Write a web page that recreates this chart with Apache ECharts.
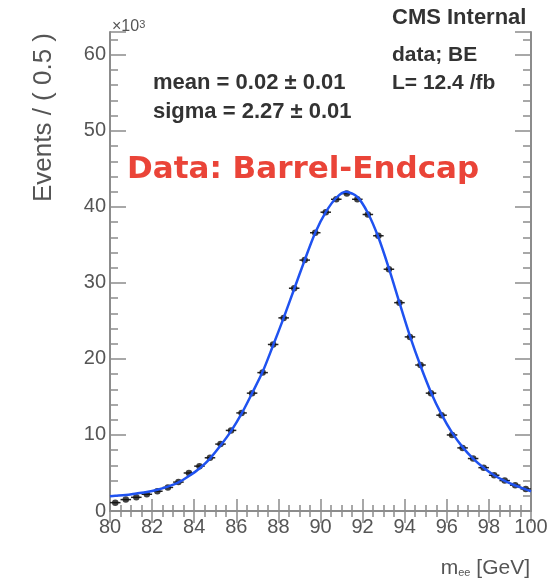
<!DOCTYPE html>
<html>
<head>
<meta charset="utf-8">
<script src="https://cdn.jsdelivr.net/npm/echarts@6/dist/echarts.min.js"></script>
<style>
html, body { margin: 0; padding: 0; background: #fff; }
#main { width: 556px; height: 583px; }
</style>
</head>
<body>
<div id="main"></div>
<script>
// bin centres (GeV), bin width 0.5
var binCenters = [80.25, 80.75, 81.25, 81.75, 82.25, 82.75, 83.25, 83.75, 84.25, 84.75,
                  85.25, 85.75, 86.25, 86.75, 87.25, 87.75, 88.25, 88.75, 89.25, 89.75,
                  90.25, 90.75, 91.25, 91.75, 92.25, 92.75, 93.25, 93.75, 94.25, 94.75,
                  95.25, 95.75, 96.25, 96.75, 97.25, 97.75, 98.25, 98.75, 99.25, 99.75];
var binHalfWidth = 0.25;
// events per bin, x10^3
var events = [1.1, 1.5, 1.8, 2.2, 2.6, 3.1, 3.8, 5.0, 5.9, 7.0,
              8.8, 10.6, 12.9, 15.5, 18.2, 21.9, 25.4, 29.3, 33.0, 36.6,
              39.3, 41.0, 41.75, 41.0, 39.0, 36.2, 31.8, 27.4, 22.9, 19.2,
              15.5, 12.6, 10.0, 8.3, 6.9, 5.7, 4.7, 4.0, 3.4, 2.9];
// fitted curve
var fitMass = [80.0, 80.25, 80.75, 81.25, 81.75, 82.25, 82.75, 83.25, 83.75, 84.25, 84.75,
               85.25, 85.75, 86.25, 86.75, 87.25, 87.75, 88.25, 88.75, 89.25, 89.75,
               90.25, 90.75, 91.2, 91.75, 92.25, 92.75, 93.25, 93.75, 94.25, 94.75,
               95.25, 95.75, 96.25, 96.75, 97.25, 97.75, 98.25, 98.75, 99.25, 99.75, 100.0];
var fitEvents = [1.95, 2.0, 2.1, 2.3, 2.5, 2.8, 3.2, 3.75, 4.6, 5.6, 6.9,
                 8.6, 10.5, 12.8, 15.5, 18.3, 21.8, 25.4, 29.2, 33.0, 36.6,
                 39.3, 41.2, 42.0, 41.3, 39.2, 36.0, 31.9, 27.4, 23.0, 19.1,
                 15.6, 12.7, 10.3, 8.4, 6.9, 5.7, 4.7, 3.95, 3.35, 2.85, 2.6];

var pointData = binCenters.map(function (m, i) { return [m, events[i]]; });
var fitData = fitMass.map(function (m, i) { return [m, fitEvents[i]]; });

var frameColor = '#8c8c8c';
var labelFont = "'Liberation Sans', Arial, sans-serif";

function xAxisOpt(pos, showLabel) {
    return {
        type: 'value',
        position: pos,
        min: 80,
        max: 100,
        interval: 2,
        axisLine: { show: true, lineStyle: { color: frameColor, width: 2 } },
        axisTick: { show: true, inside: true, length: 12, lineStyle: { color: frameColor, width: 1.5 } },
        minorTick: { show: true, splitNumber: 4, length: 6, lineStyle: { color: frameColor, width: 1.5 } },
        axisLabel: { show: showLabel, margin: 6, fontSize: 20, color: '#555', fontFamily: labelFont },
        splitLine: { show: false },
        minorSplitLine: { show: false }
    };
}

function yAxisOpt(pos, showLabel) {
    return {
        type: 'value',
        position: pos,
        min: 0,
        max: 63,
        interval: 10,
        axisLine: { show: true, lineStyle: { color: frameColor, width: 2 } },
        axisTick: { show: true, inside: true, length: 16, lineStyle: { color: frameColor, width: 1.5 } },
        minorTick: { show: true, splitNumber: 5, length: 8, lineStyle: { color: frameColor, width: 1.5 } },
        axisLabel: {
            show: showLabel, margin: 4, fontSize: 20, color: '#555', fontFamily: labelFont,
            showMaxLabel: false,
            formatter: function (v) { return v % 10 === 0 ? String(v) : ''; }
        },
        splitLine: { show: false },
        minorSplitLine: { show: false }
    };
}

var chart = echarts.init(document.getElementById('main'));
chart.setOption({
    animation: false,
    backgroundColor: '#fff',
    grid: { left: 110, right: 25, top: 32, bottom: 72 },
    xAxis: [xAxisOpt('bottom', true), xAxisOpt('top', false)],
    yAxis: [yAxisOpt('left', true), yAxisOpt('right', false)],
    series: [
        {
            // bin width bars
            type: 'custom',
            xAxisIndex: 0,
            yAxisIndex: 0,
            data: pointData,
            renderItem: function (params, api) {
                var m = api.value(0), v = api.value(1);
                var a = api.coord([m - binHalfWidth, v]);
                var b = api.coord([m + binHalfWidth, v]);
                return {
                    type: 'line',
                    shape: { x1: a[0], y1: a[1], x2: b[0], y2: b[1] },
                    style: { stroke: '#222', lineWidth: 1.5 }
                };
            },
            z: 3
        },
        {
            type: 'scatter',
            data: pointData,
            symbol: 'circle',
            symbolSize: 6.5,
            itemStyle: { color: '#111' },
            z: 4
        },
        {
            type: 'line',
            data: fitData,
            smooth: 0.3,
            showSymbol: false,
            lineStyle: { color: '#1f52f0', width: 2.5 },
            z: 5
        }
    ],
    graphic: [
        {
            type: 'text', x: 112, y: 27,
            style: {
                text: '×10{s|3}', fill: '#555', font: "16px 'Liberation Sans', Arial",
                verticalAlign: 'middle',
                rich: { s: { fontSize: 11, verticalAlign: 'top', fill: '#555' } }
            }
        },
        {
            type: 'text', x: 44, y: 33, rotation: Math.PI / 2,
            style: {
                text: 'Events / ( 0.5 )', fill: '#555', font: "26px 'Liberation Sans', Arial",
                align: 'right', verticalAlign: 'middle'
            }
        },
        {
            type: 'text', x: 530, y: 568,
            style: {
                text: 'm{s|ee} [GeV]', fill: '#555', font: "21px 'Liberation Sans', Arial",
                align: 'right', verticalAlign: 'middle',
                rich: { s: { fontSize: 11, verticalAlign: 'bottom', fill: '#555', padding: [8, 0, 0, 0] } }
            }
        },
        {
            type: 'text', x: 392, y: 18,
            style: { text: 'CMS Internal', fill: '#333', font: "bold 22px 'Liberation Sans', Arial", verticalAlign: 'middle' }
        },
        {
            type: 'text', x: 392, y: 55,
            style: { text: 'data; BE', fill: '#333', font: "bold 21px 'Liberation Sans', Arial", verticalAlign: 'middle' }
        },
        {
            type: 'text', x: 392, y: 83,
            style: { text: 'L= 12.4 /fb', fill: '#333', font: "bold 21px 'Liberation Sans', Arial", verticalAlign: 'middle' }
        },
        {
            type: 'text', x: 153, y: 83,
            style: { text: 'mean = 0.02 \u00b1 0.01', fill: '#333', font: "bold 22px 'Liberation Sans', Arial", verticalAlign: 'middle' }
        },
        {
            type: 'text', x: 153, y: 112,
            style: { text: 'sigma = 2.27 \u00b1 0.01', fill: '#333', font: "bold 22px 'Liberation Sans', Arial", verticalAlign: 'middle' }
        },
        {
            type: 'text', x: 127, y: 170,
            style: { text: 'Data: Barrel-Endcap', fill: '#ea4438', font: "bold 31px 'DejaVu Sans', sans-serif", verticalAlign: 'middle' }
        }
    ]
});
</script>
</body>
</html>
